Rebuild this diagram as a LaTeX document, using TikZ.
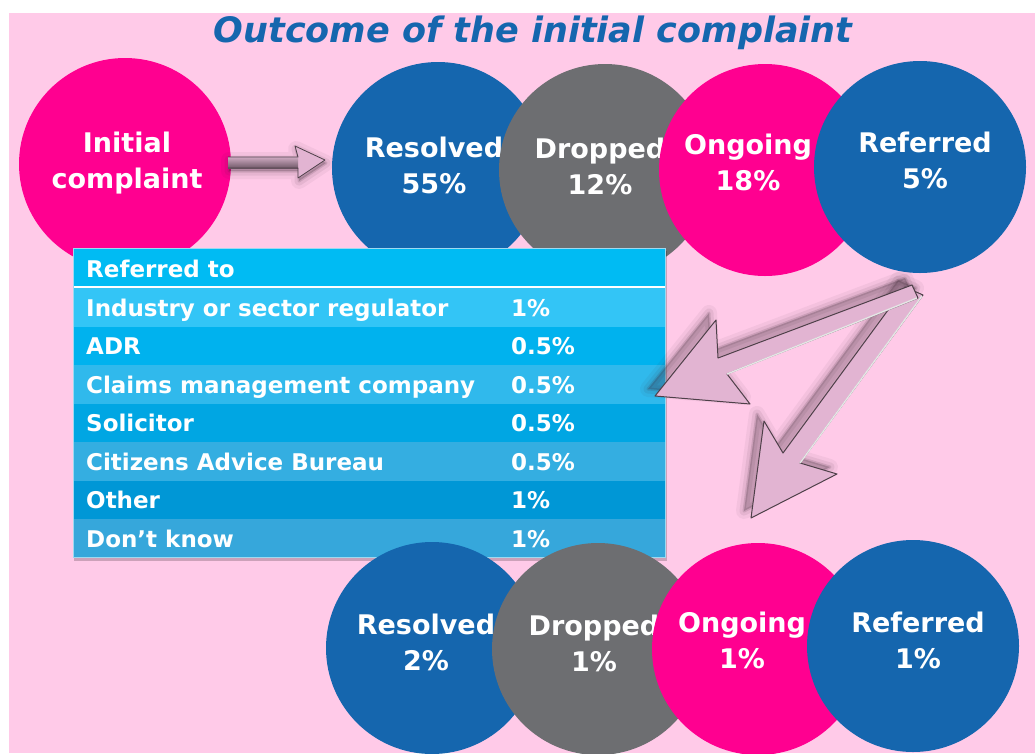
\documentclass[tikz,border=0pt]{standalone}
\usepackage{fontspec}
\setmainfont{DejaVu Sans}[ItalicFont={DejaVu Sans Oblique},BoldItalicFont={DejaVu Sans Bold Oblique}]
\usetikzlibrary{positioning}

\definecolor{bgpink}{HTML}{FFCAE8}
\definecolor{hotpink}{HTML}{FF0090}
\definecolor{deepblue}{HTML}{1566AE}
\definecolor{slate}{HTML}{6D6E71}
\definecolor{mauve}{HTML}{E2B4D2}
\definecolor{edgegrey}{HTML}{4E4049}
\definecolor{shadowc}{HTML}{3A2634}
\definecolor{hdr}{HTML}{00BBF3}
\definecolor{rowa}{HTML}{33C5F6}
\definecolor{rowb}{HTML}{00B2EE}
\definecolor{rowc}{HTML}{30B9EC}
\definecolor{rowd}{HTML}{00A6E3}
\definecolor{rowe}{HTML}{34AEE1}
\definecolor{rowf}{HTML}{0097D6}
\definecolor{rowg}{HTML}{36A7DB}
\definecolor{tblframe}{HTML}{9ED9F0}

\begin{document}
\begin{tikzpicture}[x=1pt, y=-1pt,
    blob/.style={circle, minimum size=212pt, inner sep=0pt},
    tag/.style={text=white, align=center, inner sep=0pt, font=\bfseries\fontsize{27}{36}\selectfont},
    cell/.style={anchor=base west, inner sep=0pt, text=white, font=\bfseries\fontsize{23}{23}\selectfont},
    blockarrow/.style={fill=mauve, draw=edgegrey, line width=1pt, line join=round},
    haze/.style={
      preaction={fill=shadowc, draw=shadowc, line width=16pt, line join=round, opacity=.05, transform canvas={shift={#1}}},
      preaction={fill=shadowc, draw=shadowc, line width=9pt, line join=round, opacity=.08, transform canvas={shift={#1}}},
      preaction={fill=shadowc, draw=shadowc, line width=3pt, line join=round, opacity=.14, transform canvas={shift={#1}}}}
  ]
    \useasboundingbox (0,0) rectangle (1035,753);
    \clip (0,0) rectangle (1035,753);
    \fill[white] (0,0) rectangle (1035,753);
    \fill[bgpink] (9,13) rectangle (1035,753);

    \node[text=deepblue, inner sep=0pt, font=\bfseries\itshape\fontsize{35}{35}\selectfont] (title) at (533,33) {Outcome of the initial complaint};

    % first round
    \node[blob, fill=hotpink] (init) at (125,164) {};
    \node[tag] (init-t) at (127,163) {Initial\\complaint};

    % arrow into the first round
    \path[haze={(1pt,-3pt)}, fill=mauve] (228,157) -- (298,157) -- (295,146) -- (325,160) -- (298,178) -- (298,168) -- (228,168) -- cycle;
    \shade[top color=mauve!80!gray, bottom color=mauve!50!black] (228,157) rectangle (298,168);
    \draw[edgegrey, line width=.8pt, line join=round] (228,157) -- (298,157) -- (295,146) -- (325,160) -- (298,178) -- (298,168) -- (228,168);

    \node[blob, fill=deepblue] (res) at (438,168) {};
    \node[tag] (res-t) at (434,165) {Resolved\\55\%};
    \node[blob, fill=slate] (drp) at (605,170) {};
    \node[tag] (drp-t) at (600,166) {Dropped\\12\%};
    \node[blob, fill=hotpink] (ong) at (765,170) {};
    \node[tag] (ong-t) at (748,162) {Ongoing\\18\%};
    \node[blob, fill=deepblue] (ref) at (920,167) {};
    \node[tag] (ref-t) at (925,160) {Referred\\5\%};

    % referral table
    \fill[black, opacity=.2] (74,251) rectangle (667,561);
    \fill[hdr] (73,248) rectangle (665,286);
    \fill[rowa] (73,288) rectangle (665,326.5);
    \fill[rowb] (73,326.5) rectangle (665,365);
    \fill[rowc] (73,365) rectangle (665,403.5);
    \fill[rowd] (73,403.5) rectangle (665,442);
    \fill[rowe] (73,442) rectangle (665,480.5);
    \fill[rowf] (73,480.5) rectangle (665,519);
    \fill[rowg] (73,519) rectangle (665,557.5);
    \draw[white, line width=2.5pt] (73,287) -- (665,287);
    \draw[tblframe, line width=1pt] (73,248) rectangle (665,557.5);

    \node[cell] (hd) at (86,277) {Referred to};
    \node[cell] (l1) at (86,316) {Industry or sector regulator};
    \node[cell] (v1) at (511,316) {1\%};
    \node[cell] (l2) at (86,354.5) {ADR};
    \node[cell] (v2) at (511,354.5) {0.5\%};
    \node[cell] (l3) at (86,393) {Claims management company};
    \node[cell] (v3) at (511,393) {0.5\%};
    \node[cell] (l4) at (86,431.5) {Solicitor};
    \node[cell] (v4) at (511,431.5) {0.5\%};
    \node[cell] (l5) at (86,470) {Citizens Advice Bureau};
    \node[cell] (v5) at (511,470) {0.5\%};
    \node[cell] (l6) at (86,508.5) {Other};
    \node[cell] (v6) at (511,508.5) {1\%};
    \node[cell] (l7) at (86,547) {Don’t know};
    \node[cell] (v7) at (511,547) {1\%};

    % arrows out of the referred round
    \path[haze={(-7pt,7pt)}, blockarrow] (905,287) -- (783,453) -- (764,421) -- (751,518) -- (837,474) -- (800,463) -- (923,295) -- cycle;
    \draw[white!80!gray, line width=1.5pt] (800,463) -- (922,296);
    \path[haze={(-7pt,7pt)}, blockarrow] (912,285) -- (718,358) -- (716,320) -- (655,396) -- (750,404) -- (727,374) -- (918,298) -- cycle;
    \draw[white!80!gray, line width=1.5pt] (727,374) -- (917,298);

    % second round
    \node[blob, fill=deepblue] (res2) at (432,648) {};
    \node[tag] (res2-t) at (426,642) {Resolved\\2\%};
    \node[blob, fill=slate] (drp2) at (598,649) {};
    \node[tag] (drp2-t) at (594,643) {Dropped\\1\%};
    \node[blob, fill=hotpink] (ong2) at (758,649) {};
    \node[tag] (ong2-t) at (742,640) {Ongoing\\1\%};
    \node[blob, fill=deepblue] (ref2) at (913,646) {};
    \node[tag] (ref2-t) at (918,640) {Referred\\1\%};
\end{tikzpicture}
\end{document}
